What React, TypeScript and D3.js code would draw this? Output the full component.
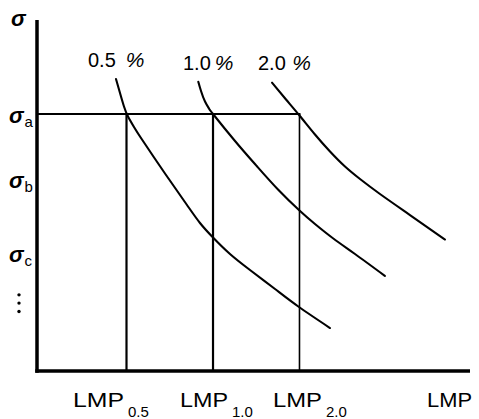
import React from "react";
import * as d3 from "d3";

const W = 479;
const H = 419;

// LMP values where each curve reaches sigma_a
const lmpLabels = ["0.5", "1.0", "2.0"];
const lmpValues = [20.67, 40.65, 60.62];
const sigmaA = 73.22;
const sigmaNames = ["a", "b", "c"];
const sigmaValues = [73.22, 54.8, 33.5];
const dotsValues = [21.7, 19.35, 16.95];

const curveNames = ["0.5", "1.0", "2.0"];
const curve05: [number, number][] = [
  [18.24, 83.19], [19.17, 79.2], [20.09, 75.36], [21.02, 72.51], [22.4, 69.52],
  [24.25, 65.95], [29.56, 56.27], [34.64, 47.29], [37.64, 42.17], [40.65, 38.03],
  [44.57, 33.33], [49.19, 28.77], [54.97, 23.36], [60.51, 18.23], [67.67, 12.25],
];
const curve10: [number, number][] = [
  [37.25, 82.42], [37.88, 79.77], [38.8, 76.78], [39.72, 74.79], [40.65, 73.22],
  [45.73, 65.53], [50.74, 58.4], [55.66, 51.71], [60.62, 45.73], [64.2, 41.88],
  [68.43, 37.75], [73.44, 33.33], [80.37, 27.07],
];
const curve20: [number, number][] = [
  [54.27, 82.14], [57.51, 77.35], [60.62, 72.79], [64.2, 67.38], [67.67, 62.54],
  [71.13, 58.26], [74.6, 54.7], [79.21, 50.43], [86.14, 44.44], [94.23, 37.46],
];
const curves = [curve05, curve10, curve20];

// layout (pixel positions for labels)
const pctLabelLeft = [88, 183, 258];
const pctLabelBase = [67, 69.5, 69.5];
const pctGap = [10, 4, 6.5];
const lmpLabelLeft = [73, 180, 273];
const lmpLabelWidth = [51, 48, 49];

export default function App() {
  const x = d3.scaleLinear().domain([0, 100]).range([37, 470]);
  const y = d3.scaleLinear().domain([0, 100]).range([371, 20]);
  const line = d3
    .line<[number, number]>()
    .x((d) => x(d[0]))
    .y((d) => y(d[1]))
    .curve(d3.curveNatural);

  const font: React.CSSProperties = {
    fontFamily: "'Liberation Sans', Arial, sans-serif",
  };

  return (
    <svg
      width={W}
      height={H}
      style={{ position: "absolute", left: 0, top: 0, background: "#fff" }}
    >
      <rect x={0} y={0} width={W} height={H} fill="#fff" />
      {/* sigma_a horizontal line */}
      <line x1={x(0)} x2={x(lmpValues[2]) + 1} y1={y(sigmaA)} y2={y(sigmaA)} stroke="#000" strokeWidth={2} />
      {/* vertical lines */}
      {lmpValues.map((v, i) => (
        <line key={i} x1={x(v)} x2={x(v)} y1={y(sigmaA)} y2={y(0)} stroke="#000" strokeWidth={i === 2 ? 1.6 : 2.2} />
      ))}
      {/* curves */}
      {curves.map((c, i) => (
        <path key={i} d={line(c) || ""} fill="none" stroke="#000" strokeWidth={2.1} strokeLinecap="round" />
      ))}
      {/* axes */}
      <line x1={x(0)} x2={x(0)} y1={y(100)} y2={y(0) + 1.75} stroke="#000" strokeWidth={3.5} />
      <line x1={x(0) - 1.75} x2={x(100)} y1={y(0)} y2={y(0)} stroke="#000" strokeWidth={3.5} />

      {/* curve labels */}
      {curveNames.map((n, i) => (
        <text key={i} x={pctLabelLeft[i]} y={pctLabelBase[i]} fontSize={20} fill="#000" style={font}>
          {n}
          <tspan dx={pctGap[i]} fontSize={21} fontStyle="italic">%</tspan>
        </text>
      ))}

      {/* y labels */}
      <text x={11} y={25.5} fontSize={22} fontStyle="italic" fontWeight="bold" fill="#000" style={font}>σ</text>
      {sigmaNames.map((s, i) => (
        <text key={s} x={9} y={y(sigmaValues[i]) + 9} fontSize={22} fontStyle="italic" fontWeight="bold" fill="#000" style={font}>
          σ
          <tspan dx={1} dy={4} fontSize={15} fontStyle="normal" fontWeight="normal">{s}</tspan>
        </text>
      ))}
      {dotsValues.map((v, i) => (
        <circle key={i} cx={19} cy={y(v)} r={1.7} fill="#000" />
      ))}

      {/* x labels */}
      {lmpLabels.map((l, i) => (
        <g key={l}>
          <text x={lmpLabelLeft[i]} y={407} fontSize={21} fill="#000" textLength={lmpLabelWidth[i]} lengthAdjust="spacingAndGlyphs" style={font}>
            LMP
          </text>
          <text x={lmpLabelLeft[i] + lmpLabelWidth[i] + 4} y={416.5} fontSize={15} fill="#000" style={font}>
            {l}
          </text>
        </g>
      ))}
      <text x={427} y={407} fontSize={21} fill="#000" textLength={45} lengthAdjust="spacingAndGlyphs" style={font}>
        LMP
      </text>
    </svg>
  );
}
